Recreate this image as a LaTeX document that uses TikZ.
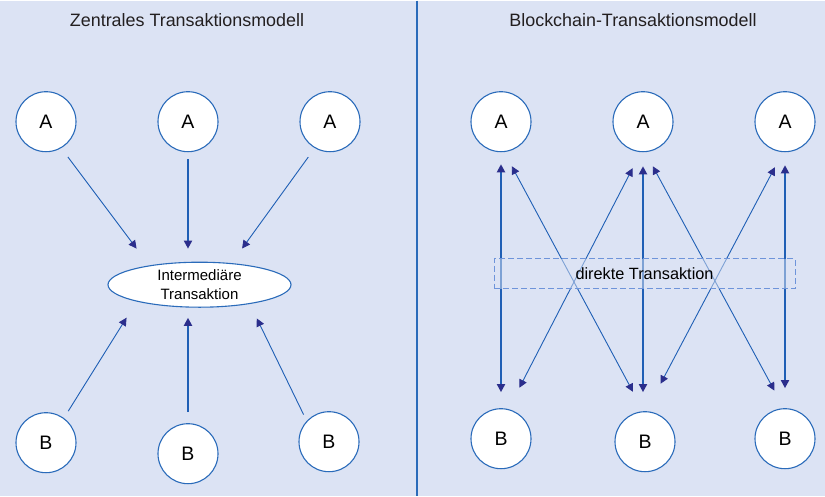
\documentclass[tikz,border=0pt]{standalone}
\usepackage{fontspec}
\setmainfont{Liberation Sans}
\usetikzlibrary{arrows.meta,shapes.geometric}
\definecolor{bgblue}{HTML}{DCE3F4}
\definecolor{lineblue}{HTML}{1F5FB5}
\definecolor{tipblue}{HTML}{2B2E8C}
\definecolor{rimblue}{HTML}{2A6BBA}
\definecolor{dashblue}{HTML}{6E94DA}
\definecolor{titlegray}{HTML}{231F20}

\begin{document}
\begin{tikzpicture}[x=1pt,y=-1pt,node distance=142pt,
			>={Triangle[length=8pt,width=8pt,color=tipblue]},
			party node/.style={circle,draw=rimblue,fill=white,line width=1.1pt,minimum size=60pt,inner sep=0pt,font=\fontsize{19.5}{21}\selectfont},
			middle node/.style={ellipse,draw=rimblue,fill=white,line width=1.1pt,minimum width=183pt,minimum height=45pt,inner sep=0pt,align=center,font=\fontsize{15}{19}\selectfont},
			title node/.style={anchor=base,text=titlegray,font=\fontsize{17.9}{20}\selectfont},
			thin link/.style={lineblue,line width=0.9pt},
			heavy link/.style={lineblue,line width=1.8pt}]
			
			\fill[bgblue] (0,0) rectangle (825,495);
			\draw[rimblue,line width=1.4pt] (417,0) -- (417,495);
			\useasboundingbox (0,0) rectangle (825,495);
			
			\node[title node] (T1) at (187,26) {Zentrales Transaktionsmodell};
			\node[title node] (T2) at (633,26) {Blockchain-Transaktionsmodell};
			
			% zentral
			\node[party node] (LA1) at (46,121) {A};
			\node[party node] (LA2) [right of=LA1] {A};
			\node[party node] (LA3) [right of=LA2] {A};
			\node[middle node] (M) at (199.5,284) {Intermediäre\\Transaktion};
			\node[party node] (LB1) at (46,442) {B};
			\node[party node] (LB2) at (188,453) {B};
			\node[party node] (LB3) at (329,441) {B};
			
			\path[->]
			(LA1.-60) edge[thin link,shorten <=11pt,shorten >=21pt] (M.159)
			(LA2.south) edge[heavy link,shorten <=7pt,shorten >=13pt] (LA2.south |- M.north)
			(LA3.-120) edge[thin link,shorten <=11pt,shorten >=18pt] (M.34)
			(LB1.54) edge[thin link,shorten <=8pt,shorten >=19pt] (M.195)
			(LB2.north) edge[heavy link,shorten <=11pt,shorten >=10pt] (LB2.north |- M.south)
			(LB3.137) edge[thin link,shorten <=7pt,shorten >=16pt] (M.339);
			
			% blockchain
			\node[party node] (RA1) at (501,121) {A};
			\node[party node] (RA2) [right of=RA1] {A};
			\node[party node] (RA3) [right of=RA2] {A};
			\node[party node] (RB1) at (501,438) {B};
			\node[party node] (RB2) at (645,441) {B};
			\node[party node] (RB3) at (785,438) {B};
			
			\path[<->]
			(RA1.south) edge[heavy link,shorten <=12pt,shorten >=16pt] (RB1.north)
			(RA2.south) edge[heavy link,shorten <=14pt,shorten >=19pt] (RA2.south |- RB2.north)
			(RA3.south) edge[heavy link,shorten <=13pt,shorten >=20pt] (RB3.north)
			(RA1.-84) edge[thin link,shorten <=16pt,shorten >=22pt] (RB2.93)
			(RA2.-94) edge[thin link,shorten <=18pt,shorten >=24pt] (RB1.76)
			(RA2.-86) edge[thin link,shorten <=16pt,shorten >=20pt] (RB3.92)
			(RA3.-94) edge[thin link,shorten <=17pt,shorten >=31pt] (RB2.88);
			
			\node[draw=dashblue,dash pattern=on 6pt off 3pt,line width=1pt,fill=bgblue,fill opacity=0.5,text opacity=1,
			minimum width=301pt,minimum height=30pt,font=\fontsize{16.3}{18}\selectfont] (D) at (644.5,273) {direkte Transaktion};
			\end{tikzpicture}
\end{document}
